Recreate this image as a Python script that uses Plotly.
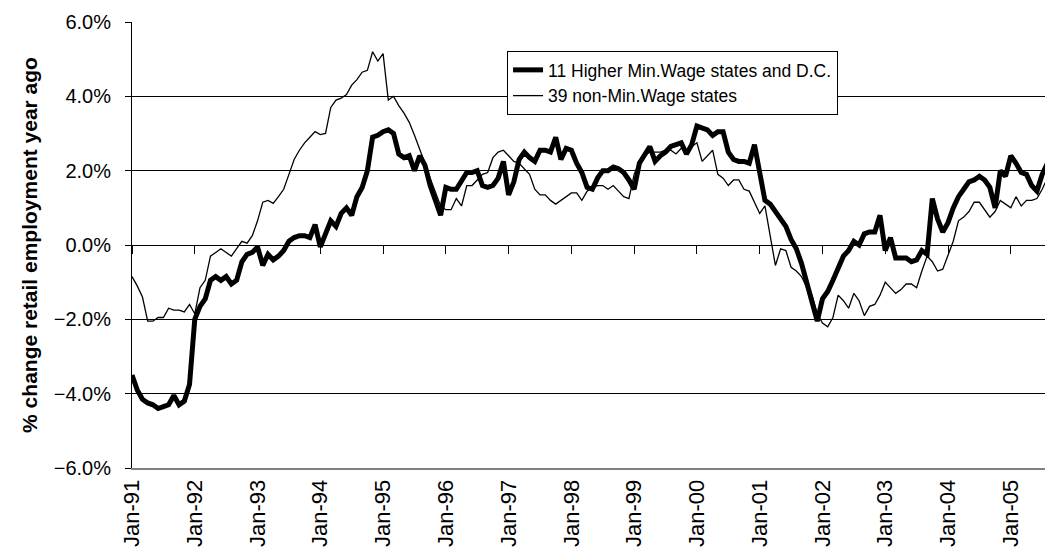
import plotly.graph_objects as go

# monthly, Jan-91 onward (percent change vs year ago)
higher_min_wage = [
    -3.5, -3.9, -4.15, -4.25, -4.3, -4.4, -4.35, -4.3, -4.05, -4.3, -4.2, -3.75,
    -2.0, -1.65, -1.45, -0.95, -0.85, -0.95, -0.85, -1.05, -0.95, -0.45, -0.25, -0.2,
    -0.05, -0.55, -0.25, -0.4, -0.3, -0.15, 0.1, 0.2, 0.25, 0.25, 0.2, 0.55,
    -0.05, 0.3, 0.65, 0.5, 0.85, 1.0, 0.8, 1.3, 1.55, 2.0, 2.9, 2.95,
    3.05, 3.1, 3.0, 2.45, 2.35, 2.4, 2.0, 2.4, 2.15, 1.6, 1.15, 0.8,
    1.55, 1.5, 1.5, 1.75, 1.95, 1.95, 2.0, 1.6, 1.55, 1.6, 1.8, 2.25,
    1.35, 1.7, 2.3, 2.5, 2.35, 2.25, 2.55, 2.55, 2.5, 2.9, 2.3, 2.6,
    2.55, 2.2, 1.95, 1.55, 1.5, 1.8, 2.0, 2.0, 2.1, 2.05, 1.95, 1.75,
    1.5, 2.2, 2.4, 2.65, 2.25, 2.4, 2.5, 2.65, 2.7, 2.75, 2.45, 2.7,
    3.2, 3.15, 3.1, 2.95, 3.05, 3.05, 2.5, 2.3, 2.25, 2.25, 2.2, 2.7,
    2.0, 1.2, 1.1, 0.9, 0.7, 0.5, 0.15, -0.1, -0.5, -1.0, -1.55, -2.05,
    -1.45, -1.25, -0.95, -0.6, -0.3, -0.15, 0.1, 0.0, 0.3, 0.35, 0.35, 0.8,
    -0.15, 0.2, -0.35, -0.35, -0.35, -0.45, -0.4, -0.15, -0.25, 1.25, 0.7, 0.35,
    0.6, 1.0, 1.3, 1.5, 1.7, 1.75, 1.85, 1.75, 1.55, 1.0, 2.0, 1.85,
    2.4, 2.2, 1.95, 1.9, 1.6, 1.45, 1.9, 2.2, 2.05, 1.6,
]
non_min_wage = [
    -0.85, -1.1, -1.4, -2.05, -2.05, -1.95, -1.95, -1.7, -1.75, -1.75, -1.8, -1.6,
    -1.85, -1.15, -0.95, -0.3, -0.2, -0.1, -0.2, -0.3, -0.1, 0.1, 0.05, 0.25,
    0.65, 1.15, 1.2, 1.12, 1.3, 1.5, 1.9, 2.3, 2.55, 2.75, 2.9, 3.05,
    2.97, 3.0, 3.7, 3.9, 3.95, 4.05, 4.3, 4.45, 4.65, 4.7, 5.2, 4.95,
    5.15, 3.9, 4.0, 3.75, 3.55, 3.3, 2.95, 2.6, 2.2, 1.8, 1.4, 1.05,
    0.95, 0.95, 1.25, 1.05, 1.6, 1.6, 1.75, 1.9, 1.95, 2.35, 2.5, 2.55,
    2.4, 2.25, 2.2, 2.05, 1.9, 1.5, 1.35, 1.35, 1.2, 1.1, 1.2, 1.3,
    1.4, 1.4, 1.2, 1.45, 1.55, 1.6, 1.6, 1.5, 1.6, 1.45, 1.3, 1.25,
    1.9, 2.25, 2.4, 2.5, 2.5, 2.5, 2.55, 2.55, 2.45, 2.6, 2.55, 2.65,
    2.75, 2.25, 2.4, 2.55, 1.9, 1.8, 1.6, 1.75, 1.75, 1.5, 1.45, 1.15,
    0.85, 1.05, 0.3, -0.55, -0.1, -0.15, -0.6, -0.7, -0.85, -1.15, -1.35, -1.85,
    -2.1, -2.2, -1.95, -1.35, -1.5, -1.7, -1.3, -1.5, -1.9, -1.65, -1.6, -1.35,
    -1.0, -1.15, -1.3, -1.2, -1.05, -1.05, -1.15, -0.7, -0.3, -0.45, -0.7, -0.65,
    -0.3, 0.1, 0.65, 0.75, 0.9, 1.15, 1.15, 0.95, 0.75, 0.9, 1.2, 1.1,
    1.0, 1.3, 1.05, 1.2, 1.2, 1.25, 1.5, 1.8, 1.05, 0.7,
]
tick_labels = ["Jan-91", "Jan-92", "Jan-93", "Jan-94", "Jan-95", "Jan-96", "Jan-97",
               "Jan-98", "Jan-99", "Jan-00", "Jan-01", "Jan-02", "Jan-03", "Jan-04", "Jan-05"]
series_names = ["11 Higher Min.Wage states and D.C.", "39 non-Min.Wage states"]
y_title = "% change retail employment year ago"

months = list(range(len(higher_min_wage)))
tick_pos = [12 * i for i in range(len(tick_labels))]
xr = [0, 177.6]
FONT = "Arial, Liberation Sans, sans-serif"

fig = go.Figure()
fig.add_trace(go.Scatter(x=months, y=[v / 100 for v in higher_min_wage], mode="lines",
                         name=series_names[0], line=dict(color="black", width=5)))
fig.add_trace(go.Scatter(x=months, y=[v / 100 for v in non_min_wage], mode="lines",
                         name=series_names[1], line=dict(color="black", width=1.3),
                         xaxis="x2"))

fig.update_layout(
    width=1053, height=556,
    margin=dict(l=124, r=0, t=14, b=96),
    paper_bgcolor="white", plot_bgcolor="white",
    font=dict(family=FONT, size=17, color="black"),
    showlegend=True,
    legend=dict(x=0.4037, y=0.7915, xanchor="left", yanchor="bottom",
                bgcolor="white", bordercolor="black", borderwidth=1,
                font=dict(size=17.5), tracegroupgap=0),
    xaxis=dict(range=xr, tickmode="array", tickvals=tick_pos, ticktext=tick_labels,
               tickangle=-90, showgrid=False, zeroline=False, showline=True,
               linecolor="#808080", linewidth=2, ticks="", ticklabelstandoff=1,
               tickfont=dict(size=22)),
    xaxis2=dict(range=xr, overlaying="x", anchor="free", position=0.5, side="bottom",
                tickmode="array", tickvals=tick_pos, ticks="outside", ticklen=8,
                tickwidth=1, tickcolor="black", showticklabels=False, showgrid=False,
                zeroline=False, showline=False),
    yaxis=dict(range=[-0.06, 0.06], dtick=0.02, tickformat=".1%", showgrid=True,
               gridcolor="black", gridwidth=1, zeroline=False, showline=True,
               linecolor="black", linewidth=1, ticks="outside", ticklen=6,
               tickcolor="black", ticklabelstandoff=10, tickfont=dict(size=20),
               title=dict(text="<b>" + y_title + "</b>", font=dict(size=21), standoff=10)),
)
fig.write_html("out.html")
